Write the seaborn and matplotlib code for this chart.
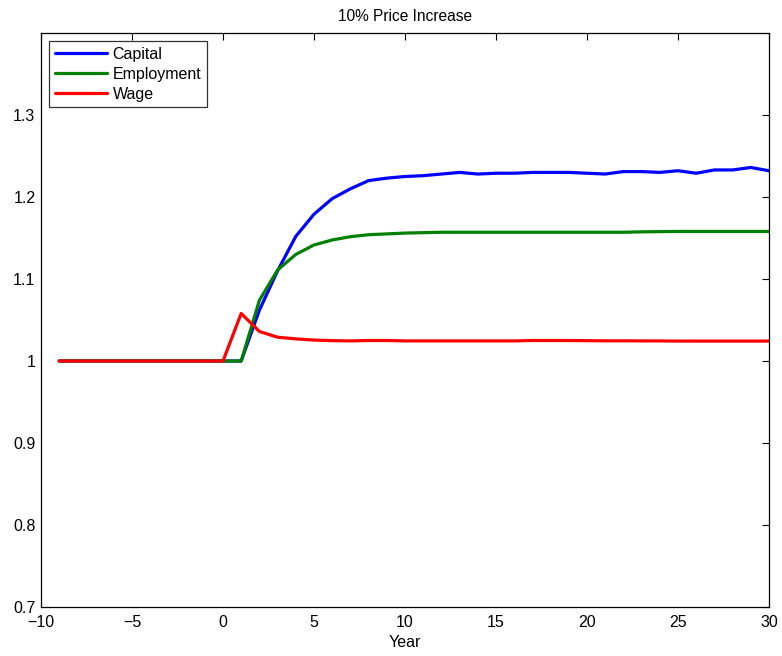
import numpy as np
import pandas as pd
import matplotlib
matplotlib.use("Agg")
import matplotlib.pyplot as plt
import seaborn as sns

years = list(range(-9, 31))

capital = [1.0] * 10 + [1.0, 1.062, 1.110, 1.152, 1.179, 1.198, 1.210, 1.220, 1.223, 1.225,
                        1.226, 1.228, 1.230, 1.228, 1.229, 1.229, 1.230, 1.230, 1.230, 1.229,
                        1.228, 1.231, 1.231, 1.230, 1.232, 1.229, 1.233, 1.233, 1.236, 1.232]
employment = [1.0] * 10 + [1.0, 1.074, 1.111, 1.130, 1.1415, 1.1476, 1.1516, 1.154, 1.155, 1.156,
                           1.1565, 1.157, 1.157, 1.157, 1.157, 1.157, 1.157, 1.157, 1.157, 1.157,
                           1.157, 1.157, 1.1575, 1.1578, 1.158, 1.158, 1.158, 1.158, 1.158, 1.158]
wage = [1.0] * 10 + [1.058, 1.036, 1.029, 1.027, 1.0255, 1.0248, 1.0245, 1.025, 1.025, 1.0245,
                     1.0245, 1.0245, 1.0245, 1.0245, 1.0245, 1.0245, 1.025, 1.025, 1.025, 1.0248,
                     1.0246, 1.0246, 1.0245, 1.0245, 1.0243, 1.0243, 1.0243, 1.0243, 1.0243, 1.0243]

series_names = ["Capital", "Employment", "Wage"]
colors = ["#0000ff", "#008000", "#ff0000"]

df = pd.concat([
    pd.DataFrame({"Year": years, "value": capital, "series": "Capital"}),
    pd.DataFrame({"Year": years, "value": employment, "series": "Employment"}),
    pd.DataFrame({"Year": years, "value": wage, "series": "Wage"}),
])

sns.set_style("white")
plt.rcParams['font.family'] = ['Liberation Sans', 'DejaVu Sans']
plt.rcParams['text.color'] = 'black'
plt.rcParams['axes.labelcolor'] = 'black'
plt.rcParams['xtick.color'] = 'black'
plt.rcParams['ytick.color'] = 'black'

fig = plt.figure(figsize=(7.82, 6.56), dpi=100)
ax = fig.add_axes([41/782, 1 - 607/656, (769 - 41)/782, (607 - 33)/656])

sns.lineplot(data=df, x="Year", y="value", hue="series", hue_order=series_names,
             palette=colors, linewidth=2.3, ax=ax)

ax.set_xlim(-10, 30)
ax.set_ylim(0.7, 1.4)
ax.set_xticks(range(-10, 31, 5))
ax.set_xticklabels(["\u221210", "\u22125", "0", "5", "10", "15", "20", "25", "30"])
ax.set_yticks([0.7, 0.8, 0.9, 1.0, 1.1, 1.2, 1.3])
ax.set_yticklabels(["0.7", "0.8", "0.9", "1", "1.1", "1.2", "1.3"])
ax.tick_params(direction="in", length=5, width=0.8, top=True, right=True,
               labelsize=11.5, pad=4, colors="black")
ax.tick_params(axis="x", pad=5.5)
for s in ax.spines.values():
    s.set_color("black")
    s.set_linewidth(0.9)
ax.set_xlabel("Year", fontsize=11.5, labelpad=4, color="black")
ax.set_ylabel("")
ax.set_title("10% Price Increase", fontsize=11.2, pad=8.5, color="black")

leg = ax.legend(loc="upper left", bbox_to_anchor=(8/728, 1 - 8/574), fontsize=11.5,
                frameon=True, fancybox=False, handlelength=3.25, handletextpad=0.375,
                labelspacing=0.32, borderpad=0.35, borderaxespad=0)
leg.get_frame().set_edgecolor("black")
leg.get_frame().set_linewidth(0.9)
for t in leg.get_texts():
    t.set_color("black")

fig.savefig("out.png", dpi=100)
